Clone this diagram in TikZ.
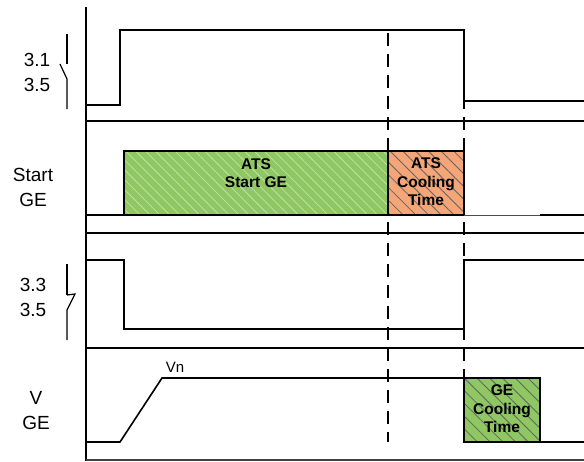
\documentclass[tikz,border=0pt]{standalone}
\usepackage{fontspec}
\setmainfont{Liberation Sans}
\usetikzlibrary{patterns.meta}
\definecolor{boxgreen}{RGB}{143,199,98}
\definecolor{boxorange}{RGB}{245,166,120}
\definecolor{hatchdark}{RGB}{100,100,100}
\tikzset{
  sig/.style={line width=1.6pt, line join=miter},
  sep/.style={line width=1.6pt},
  guide/.style={line width=1.4pt, dash pattern=on 13pt off 8pt},
  lab/.style={font=\fontsize{19}{23}\selectfont, align=center, inner sep=0pt},
  boxtxt/.style={font=\fontsize{15.5}{18.5}\selectfont\bfseries, align=center, inner sep=0pt},
  greenhatch/.style={pattern={Lines[angle=-45,distance=7pt,line width=0.8pt]}, pattern color=white!45!boxgreen},
  darkhatch/.style={pattern={Lines[angle=-45,distance=9pt,line width=0.8pt]}, pattern color=hatchdark},
  contact/.style={line width=1.2pt}
}
\begin{document}
\begin{tikzpicture}[x=1pt,y=-1pt]
\useasboundingbox (0,0) rectangle (584,461);
% axis and separators
\draw[sep] (86,7) -- (86,461);
\draw[sep] (86,121) -- (584,121);
\draw[sep] (86,233) -- (584,233);
\draw[sep] (86,348) -- (584,348);
\draw[line width=1.2pt, black!75] (86,460) -- (584,460);
% guides
\draw[guide] (388,33) -- (388,442);
\draw[guide] (464,33) -- (464,442);
% signal 1
\draw[sig] (86,105) -- (120,105) -- (120,30) -- (464,30) -- (464,101) -- (584,101);
% signal 2 boxes
\fill[boxgreen] (124,151) rectangle (388,215);
\fill[greenhatch] (124,151) rectangle (388,215);
\fill[boxorange] (388,151) rectangle (464,215);
\fill[darkhatch] (388,151) rectangle (464,215);
\draw[line width=1.6pt] (124,215) -- (124,151) -- (464,151) -- (464,215);
\draw[line width=1.4pt] (388,151) -- (388,215);
\draw[sep] (86,215) -- (464,215);
\draw[line width=1pt, black!70] (464,215) -- (540,215);
\draw[sep] (540,215) -- (584,215);
\node[boxtxt] (ats) at (256,173) {ATS\\Start GE};
\node[boxtxt] (atscool) at (426,182) {ATS\\Cooling\\Time};
% signal 3
\draw[sig] (86,260) -- (124,260) -- (124,329) -- (464,329) -- (464,260) -- (584,260);
% signal 4
\fill[boxgreen] (464,378) rectangle (540,442);
\fill[darkhatch] (464,378) rectangle (540,442);
\draw[sig] (86,442) -- (120,442) -- (162,378) -- (464,378) -- (464,442) -- (584,442);
\draw[sig] (464,378) -- (540,378) -- (540,442);
\node[boxtxt] (gecool) at (502,409) {GE\\Cooling\\Time};
\node[font=\fontsize{15}{18}\selectfont, inner sep=0pt] (vn) at (175,367) {Vn};
% labels
\node[lab] (l1) at (37,72) {3.1\\[2pt]3.5};
\node[lab] (l2) at (33,187) {Start\\[2pt]GE};
\node[lab] (l3) at (33,297) {3.3\\[2pt]3.5};
\node[lab] (l4) at (36,411) {V\\[2pt]GE};
% contact symbols
\draw[contact] (67,34) -- (67,64);
\draw[contact] (60,64) -- (67,79) -- (67,109);
\draw[contact] (67,264) -- (67,295);
\draw[contact] (67,295) -- (75,294) -- (67,310) -- (67,340);
\end{tikzpicture}
\end{document}
